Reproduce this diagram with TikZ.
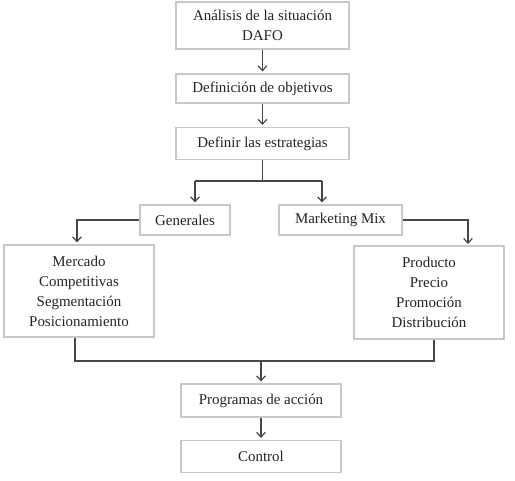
\documentclass[tikz,border=0pt]{standalone}
\usepackage{fontspec}
\setmainfont{Liberation Serif}
\usepackage{xcolor}
\usepackage{tikz}
\usetikzlibrary{arrows.meta,positioning}
\definecolor{boxc}{RGB}{200,200,200}
\definecolor{linec}{RGB}{70,70,70}
\definecolor{txtc}{RGB}{35,35,35}
\tikzset{
  stagebox/.style={draw=boxc,line width=0.9pt,fill=white,text=txtc,align=center,inner sep=2pt},
  flow/.style={draw=linec,line width=0.9pt},
  flowarrow/.style={flow,-{Straight Barb[length=3.5pt,width=6.5pt]},shorten >=1.5pt}
}
\begin{document}
\begin{tikzpicture}[x=0.75pt,y=-0.75pt,font=\fontsize{11.2}{15}\selectfont]
\useasboundingbox (0,0) rectangle (515,481);
% main column
\node[stagebox,minimum width=129.75pt,minimum height=35.25pt] (analisis) at (262.5,25.5) {Análisis de la situación\\DAFO};
\node[stagebox,minimum width=129.75pt,minimum height=21.75pt] (objetivos) at (262.5,88.5) {Definición de objetivos};
\node[stagebox,minimum width=129.75pt,minimum height=24pt] (estrategias) at (262.5,143.5) {Definir las estrategias};
% two branches
\node[stagebox,minimum width=67.5pt,minimum height=22.5pt] (generales) at (185,220) {Generales};
\node[stagebox,minimum width=92.25pt,minimum height=22.5pt] (mix) at (340.5,220) {Marketing Mix};
\node[stagebox,minimum width=112.5pt,minimum height=69pt] (mercado) at (79,291) {Mercado\\Competitivas\\Segmentación\\Posicionamiento};
\node[stagebox,minimum width=112.5pt,minimum height=69.75pt] (producto) at (429,292.5) {Producto\\Precio\\Promoción\\Distribución};
% closing column
\node[stagebox,minimum width=120pt,minimum height=24.75pt] (programas) at (261,400.5) {Programas de acción};
\node[stagebox,minimum width=120pt,minimum height=24pt] (control) at (261,456.5) {Control};
\coordinate (fork) at (262.5,181);
\coordinate (forkL) at (195,181);
\coordinate (forkR) at (322,181);
\coordinate (mixdrop) at (468,246);
\coordinate (joinL) at (75,361);
\coordinate (joinR) at (434,361);
\coordinate (join) at (261,361);
\draw[flowarrow] (analisis) -- (objetivos);
\draw[flowarrow] (objetivos) -- (estrategias);
\draw[flow] (estrategias) -- (fork);
\draw[flow] (forkL) -- (forkR);
\draw[flowarrow] (forkL) -- (forkL |- generales.north);
\draw[flowarrow] (forkR) -- (forkR |- mix.north);
\draw[flowarrow] (generales.west) -| ([xshift=-1.5pt]mercado.north);
\draw[flowarrow] (mix.east) -| (mixdrop);
\draw[flow] (mercado.south -| joinL) -- (joinL) -- (joinR) -- (producto.south -| joinR);
\draw[flowarrow] (join) -- (programas);
\draw[flowarrow] (programas) -- (control);
\end{tikzpicture}
\end{document}
